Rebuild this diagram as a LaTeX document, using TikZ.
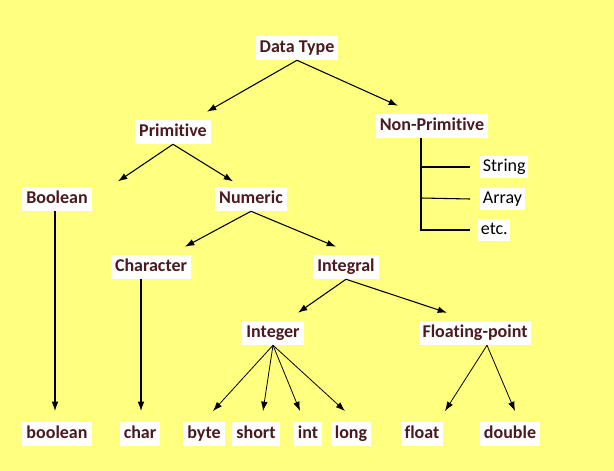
\documentclass[tikz,border=0pt]{standalone}
\usepackage{fontspec}
\setmainfont[Ligatures=NoCommon]{Carlito}
\usetikzlibrary{arrows.meta}
\definecolor{bgyellow}{HTML}{FFFF80}
\definecolor{txtred}{HTML}{4A1A1E}

\tikzset{
  lbl/.style={fill=white, text=txtred, font=\fontsize{13.5}{15}\selectfont\bfseries, inner sep=3pt, text height=9pt, text depth=3pt},
  sub/.style={fill=white, text=black, font=\fontsize{13.5}{15}\selectfont, inner sep=2pt, text height=9pt, text depth=3pt},
  arr/.style={-{Latex[length=7pt,width=5pt]}, thick}
}

\begin{document}
\begin{tikzpicture}[x=0.75pt,y=-0.75pt]
    \fill[bgyellow] (0,0) rectangle (614,471);
    \useasboundingbox (0,0) rectangle (614,471);

    \node[lbl] (dt)    at (297,48)  {Data Type};
    \node[lbl] (prim)  at (173,132) {Primitive};
    \node[lbl] (nprim) at (432,126) {Non-Primitive};
    \node[lbl] (bool)  at (57,199)  {Boolean};
    \node[lbl] (num)   at (251,199) {Numeric};
    \node[lbl] (chr)   at (151,267) {Character};
    \node[lbl] (intg)  at (346,267) {Integral};
    \node[lbl] (inte)  at (273,333) {Integer};
    \node[lbl] (flp)   at (475,333) {Floating-point};

    \node[lbl] (t_bool)  at (57,434)  {boolean};
    \node[lbl] (t_char)  at (140,434) {char};
    \node[lbl] (t_byte)  at (204,434) {byte};
    \node[lbl] (t_short) at (256,434) {short};
    \node[lbl] (t_int)   at (308,434) {int};
    \node[lbl] (t_long)  at (351,434) {long};
    \node[lbl] (t_float) at (422,434) {float};
    \node[lbl] (t_dbl)   at (510,434) {double};

    \node[sub, anchor=west] (str) at (480,167) {String};
    \node[sub, anchor=west] (arrn) at (480,199) {Array};
    \node[sub, anchor=west] (etc) at (478,230) {etc.};

    % tree arrows
    \draw[arr] (dt.south) -- ([xshift=34pt*0.75,yshift=6pt]prim.north);
    \draw[arr] (dt.south) -- ([xshift=-34pt*0.75,yshift=6pt]nprim.north);
    \draw[arr] (prim.south) -- ([xshift=-133pt*0.75,yshift=4pt]num.north);
    \draw[arr] (prim.south) -- ([xshift=-18pt*0.75,yshift=4pt]num.north);
    \draw[arr] (num.south) -- ([xshift=34pt*0.75,yshift=6pt]chr.north);
    \draw[arr] (num.south) -- ([xshift=-10pt*0.75,yshift=6pt]intg.north);
    \draw[arr] (intg.south) -- ([xshift=25pt*0.75,yshift=6pt]inte.north);
    \draw[arr] (intg.south) -- ([xshift=-28pt*0.75,yshift=6pt]flp.north);
    \draw[arr] (bool.south -| 55,0) -- ([yshift=8pt]t_bool.north -| 55,0);
    \draw[arr] (chr.south -| 141,0) -- ([yshift=8pt]t_char.north -| 141,0);
    \draw[arr, semithick] (inte.south) -- ([xshift=9pt*0.75,yshift=8pt]t_byte.north);
    \draw[arr, semithick] (inte.south) -- ([xshift=7pt*0.75,yshift=8pt]t_short.north);
    \draw[arr, semithick] (inte.south) -- ([xshift=-8pt*0.75,yshift=8pt]t_int.north);
    \draw[arr, semithick] (inte.south) -- ([xshift=-6pt*0.75,yshift=8pt]t_long.north);
    \draw[arr, semithick] ([xshift=12pt*0.75]flp.south) -- ([xshift=23pt*0.75,yshift=8pt]t_float.north);
    \draw[arr, semithick] ([xshift=12pt*0.75]flp.south) -- ([xshift=5pt*0.75,yshift=8pt]t_dbl.north);

    % non-primitive bracket
    \draw[thick] ([xshift=-11pt*0.75]nprim.south) -- (421,230) -- (etc.west -| 470,0);
    \draw[thick] (421,167) -- (str.west -| 470,0);
    \draw[thick] (421,198) -- (arrn.west -| 470,0);
\end{tikzpicture}
\end{document}
